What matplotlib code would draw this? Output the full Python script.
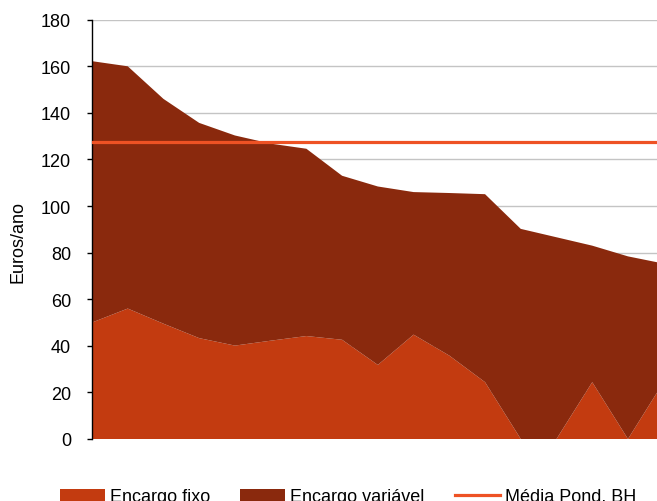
import numpy as np
import matplotlib
matplotlib.use("Agg")
import matplotlib.pyplot as plt

plt.rcParams['font.family'] = ['Liberation Sans', 'DejaVu Sans']

# fixed and variable charge per operator (euros/year), sorted by total
encargo_fixo = [50, 56, 49.5, 43.3, 40.1, 42.2, 44.2, 42.6, 31.8, 44.8, 35.8, 24.4, 0, 0, 24.4, 0, 24.5]
encargo_total = [162.2, 160, 146, 135.7, 130.3, 126.8, 124.6, 113, 108.4, 106, 105.6, 105.1, 90.2, 86.6, 83, 78.4, 75.3]
encargo_variavel = [t - f for t, f in zip(encargo_total, encargo_fixo)]
media_pond = 127.4

cor_fixo = '#C33B10'
cor_variavel = '#8A290D'
cor_media = '#EE5224'

W, H = 657, 502
fig = plt.figure(figsize=(W / 100, H / 100), dpi=100)
# right edge of the plot runs past the figure border
ax = fig.add_axes([92 / W, 1 - 440 / H, (663.7 - 92) / W, (440 - 20.7) / H])

x = np.arange(len(encargo_fixo))
ax.stackplot(x, encargo_fixo, encargo_variavel, colors=[cor_fixo, cor_variavel],
             labels=['Encargo fixo', 'Encargo variável'], zorder=2)
ax.axhline(media_pond, color=cor_media, lw=2.3, label='Média Pond. BH', zorder=3)

ax.set_xlim(0, len(x) - 1)
ax.set_ylim(0, 180)
ax.set_yticks(np.arange(0, 181, 20))
ax.set_xticks([])
ax.grid(axis='y', color='#C4C4C4', lw=1.0, zorder=1)
ax.set_axisbelow(True)
for s in ['top', 'right', 'bottom']:
    ax.spines[s].set_visible(False)
ax.spines['left'].set_color('black')
ax.spines['left'].set_linewidth(1.0)
ax.tick_params(axis='y', direction='out', length=3.6, width=1.0, pad=11.5,
               labelsize=13, colors='black')

fig.text(18 / W, 1 - 242 / H, 'Euros/ano', rotation=90, ha='center', va='center',
         fontsize=13, color='black')

handles, labels = ax.get_legend_handles_labels()
fig.legend(handles, labels, loc='center left', bbox_to_anchor=(60 / W, 1 - 498 / H),
           ncol=3, frameon=False, fontsize=13, handlelength=2.5, handletextpad=0.28,
           columnspacing=1.65, borderpad=0, borderaxespad=0)

fig.savefig('out.png', dpi=100)
